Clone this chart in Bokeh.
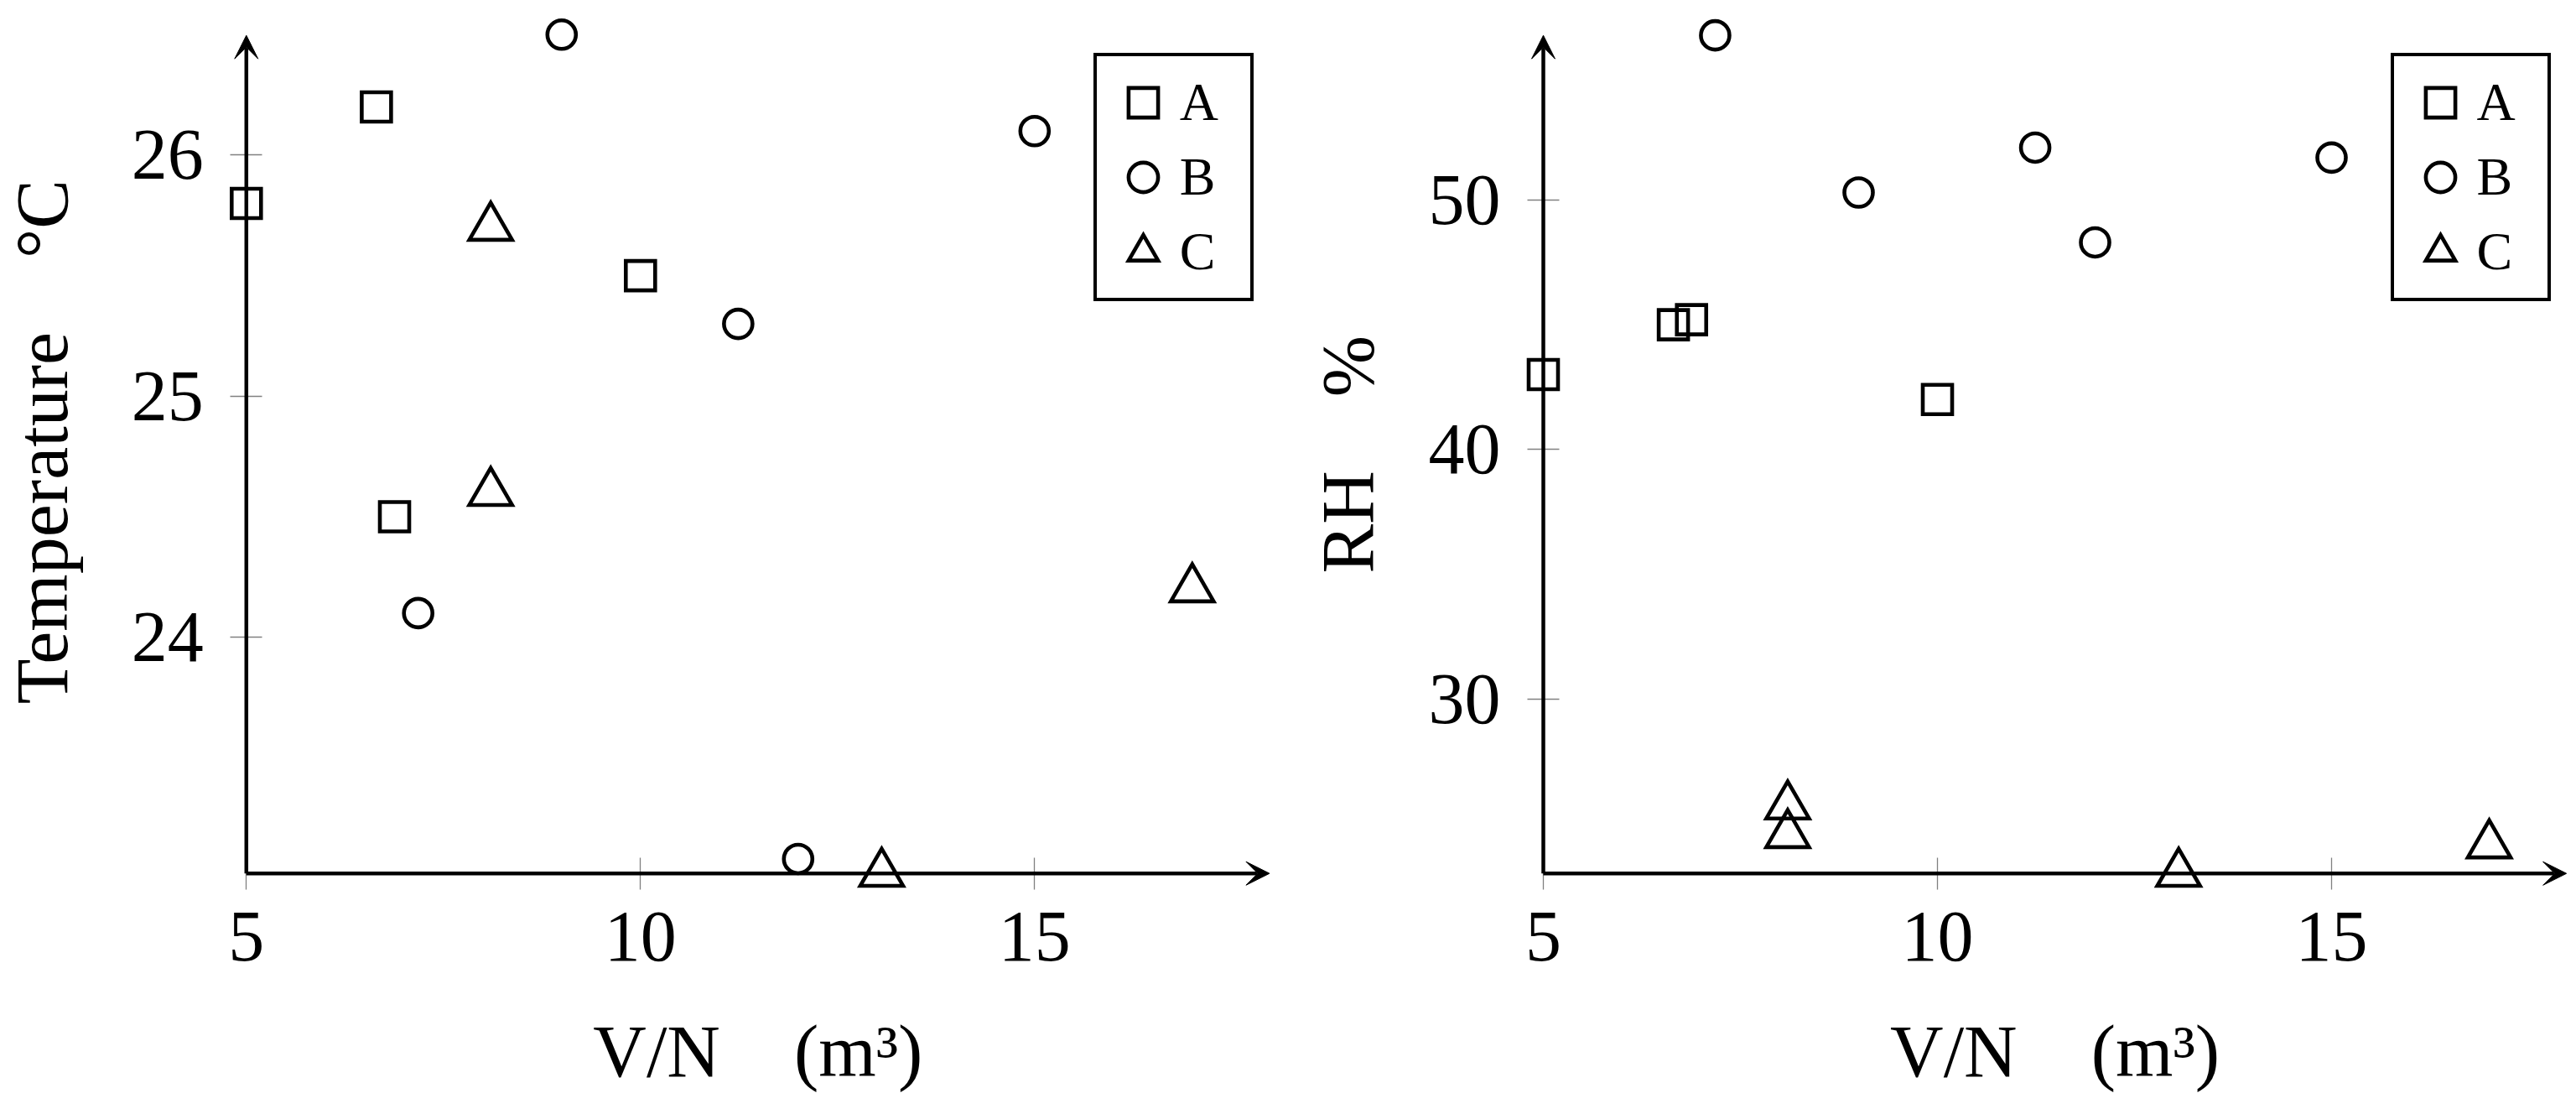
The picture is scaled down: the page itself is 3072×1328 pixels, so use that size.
from bokeh.plotting import figure
from bokeh.models import Range1d, FixedTicker, Arrow, VeeHead, Label, Legend, LegendItem
from bokeh.layouts import row
from bokeh.embed import file_html
from bokeh.resources import INLINE

# ---------------- data ----------------
categories = ["A", "B", "C"]

A_vn = [5.0, 6.65, 6.88, 10.0]
A_temp = [25.8, 26.2, 24.5, 25.5]
A_rh = [43.0, 45.0, 45.2, 42.0]

B_vn = [7.18, 9.0, 11.24, 12.0, 15.0]
B_temp = [24.1, 26.5, 25.3, 23.08, 26.1]
B_rh = [56.6, 50.3, 52.1, 48.3, 51.7]

C_vn = [8.1, 8.1, 13.06, 17.0]
C_temp = [25.7, 24.6, 23.02, 24.2]
C_rh = [25.7, 24.55, 23.0, 24.14]

x_ticks = [5, 10, 15]
temp_ticks = [24, 25, 26]
rh_ticks = [30, 40, 50]

x_title = "V/N\u00a0\u00a0\u00a0\u00a0(m\u00b3)"
temp_title = "Temperature\u00a0\u00a0\u00a0\u00a0\u00b0C"
rh_title = "RH\u00a0\u00a0\u00a0\u00a0%"

# axis extents (arrow lines)
x_axis = (5.0, 17.98)
temp_axis = (23.02, 26.497)
rh_axis = (23.0, 56.6)

# view ranges (the frame covers the whole figure; axes are drawn inside it)
left_x_view = (1.880, 18.103)
right_x_view = (1.649, 18.021)
temp_view = (22.048, 26.642)
rh_view = (13.609, 58.001)

FONT = "Liberation Serif"
markers = ["square", "circle", "triangle"]
sizes = [35, 34, 51]


def make_panel(ys, x_view, y_ticks, y_axis, y_view, y_title, y_title_dx, y_title_dy,
               width, legend_loc):
    p = figure(title=None, width=width, height=1320,
               x_range=Range1d(*x_view), y_range=Range1d(*y_view),
               output_backend="svg", toolbar_location=None,
               min_border_left=0, min_border_right=0,
               min_border_top=0, min_border_bottom=0)
    p.background_fill_color = "white"
    p.border_fill_color = "white"
    p.outline_line_color = None
    p.grid.visible = False

    for ax, ticks in ((p.xaxis, x_ticks), (p.yaxis, y_ticks)):
        ax.ticker = FixedTicker(ticks=ticks)
        ax.axis_line_color = None
        ax.major_tick_line_color = "#808080"
        ax.major_tick_line_width = 1.3
        ax.major_tick_in = 19
        ax.major_tick_out = 19
        ax.minor_tick_line_color = None
        ax.major_label_text_font = FONT
        ax.major_label_text_font_size = "86px"
        ax.major_label_text_color = "black"
    p.xaxis.fixed_location = y_axis[0]
    p.yaxis.fixed_location = x_axis[0]
    p.xaxis.major_label_standoff = 28
    p.yaxis.major_label_standoff = 32

    renderers = []
    for xs, yv, m, s in zip((A_vn, B_vn, C_vn), ys, markers, sizes):
        r = p.scatter(x=xs, y=yv, marker=m, size=s, fill_color=None,
                      line_color="black", line_width=4.6, line_join="miter")
        renderers.append(r)

    # axis lines with arrow heads
    for xs, xe, ys_, ye in ((x_axis[0], x_axis[1], y_axis[0], y_axis[0]),
                            (x_axis[0], x_axis[0], y_axis[0], y_axis[1])):
        p.add_layout(Arrow(x_start=xs, y_start=ys_, x_end=xe, y_end=ye,
                           line_width=4.5, line_color="black",
                           end=VeeHead(size=28, fill_color="black",
                                       line_color="black", line_width=1)))

    # axis titles
    p.add_layout(Label(x=(x_axis[0] + x_axis[1]) / 2, y=y_axis[0], y_offset=-212.5,
                       text=x_title, text_align="center", text_baseline="alphabetic",
                       text_font=FONT, text_font_size="88px", text_color="black"))
    p.add_layout(Label(x=x_axis[0], y=(y_axis[0] + y_axis[1]) / 2,
                       x_offset=y_title_dx, y_offset=y_title_dy,
                       text=y_title, angle=90, angle_units="deg",
                       text_align="center", text_baseline="alphabetic",
                       text_font=FONT, text_font_size="88px", text_color="black"))

    legend = Legend(items=[LegendItem(label=c, renderers=[r]) for c, r in zip(categories, renderers)],
                    location=legend_loc, glyph_width=88, glyph_height=88,
                    spacing=1, padding=11, label_standoff=0, label_width=73,
                    label_text_font=FONT, label_text_font_size="64px",
                    label_text_color="black",
                    border_line_color="black", border_line_width=4.5, border_line_alpha=1.0,
                    background_fill_color="white", background_fill_alpha=1.0, margin=0)
    p.add_layout(legend)
    return p


p1 = make_panel((A_temp, B_temp, C_temp), left_x_view, temp_ticks, temp_axis, temp_view,
                temp_title, -243, 15, 1525, (1303.8, 961))
p2 = make_panel((A_rh, B_rh, C_rh), right_x_view, rh_ticks, rh_axis, rh_view,
                rh_title, -233, 0, 1539, (1325.5, 961))

layout = row(p1, p2)
open("out.html", "w").write(file_html(layout, INLINE))
